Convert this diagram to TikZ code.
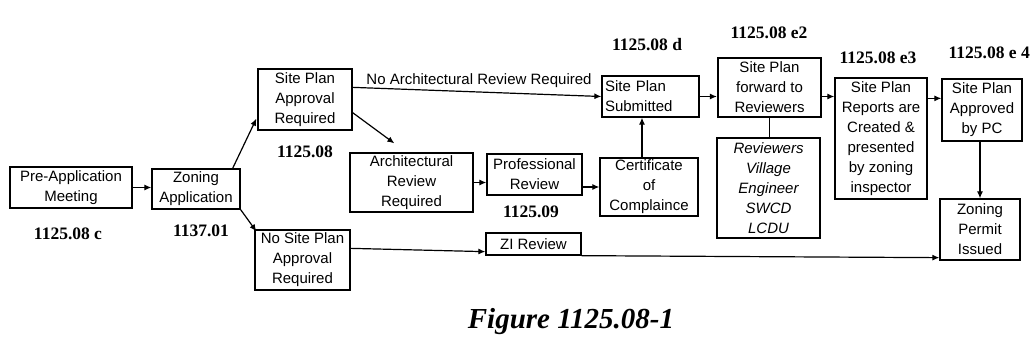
\documentclass[tikz,border=0pt]{standalone}
\usepackage{fontspec}
\setmainfont{Liberation Serif}
\setsansfont{Liberation Sans}
\usetikzlibrary{arrows.meta,calc}

\tikzset{
  blk/.style={draw, line width=1.3pt, align=center, inner sep=0pt,
    font=\sffamily\fontsize{15}{20}\selectfont},
  conn/.style={line width=1.2pt, -{Latex[length=7pt,width=6pt]}},
  plain/.style={line width=1.2pt},
  sec/.style={font=\bfseries\fontsize{17.5}{20}\selectfont, inner sep=0pt},
}

\begin{document}
\begin{tikzpicture}[x=1pt, y=-1pt]
\useasboundingbox (0,0) rectangle (1032,354);
\clip (0,0) rectangle (1032,354);

% process boxes
\node[blk, minimum width=122pt, minimum height=41pt] (pre) at (71,187.5) {Pre-Application\\Meeting};
\node[blk, minimum width=88pt, minimum height=40pt] (zon) at (196,189) {Zoning\\Application};
\node[blk, minimum width=94pt, minimum height=61pt] (spa) at (305,99.5) {Site Plan\\Approval\\Required};
\node[blk, minimum width=95pt, minimum height=60pt] (nsp) at (302.5,260) {No Site Plan\\Approval\\Required};
\node[blk, minimum width=123pt, minimum height=59pt] (arch) at (411.5,182.5) {Architectural\\Review\\Required};
\node[blk, minimum width=95pt, minimum height=41pt] (prof) at (534.5,174.5) {Professional\\Review};
\node[blk, minimum width=95pt, minimum height=22pt] (zi) at (533.5,244) {ZI Review};
\node[blk, align=left, text width=91pt, inner xsep=3pt, minimum height=41pt] (sps) at (650.5,96.5) {Site Plan\\Submitted};
\node[blk, minimum width=98pt, minimum height=58pt] (cert) at (649,187) {Certificate\\of\\Complaince};
\node[blk, line width=2.2pt, minimum width=103pt, minimum height=59pt] (fwd) at (769.5,87.5) {Site Plan\\forward to\\Reviewers};
\node[blk, minimum width=103pt, minimum height=100pt, font=\sffamily\itshape\fontsize{15}{20}\selectfont] (rev) at (768.5,188) {Reviewers\\Village\\Engineer\\SWCD\\LCDU};
\node[blk, minimum width=92pt, minimum height=121pt] (rep) at (881,138.5) {Site Plan\\Reports are\\Created \&\\presented\\by zoning\\inspector};
\node[blk, minimum width=80pt, minimum height=62pt] (app) at (982,110) {Site Plan\\Approved\\by PC};
\node[blk, minimum width=80pt, minimum height=61pt] (zp) at (980,229.5) {Zoning\\Permit\\Issued};

% section references
\node[sec] (s1) at (68,234) {1125.08 c};
\node[sec] (s2) at (201,231) {1137.01};
\node[sec] (s3) at (305,152) {1125.08};
\node[sec] (s4) at (531,212) {1125.09};
\node[sec] (s5) at (647,45) {1125.08 d};
\node[sec] (s6) at (769,33) {1125.08 e2};
\node[sec] (s7) at (878,58) {1125.08 e3};
\node[sec, anchor=east] (s8) at (1030,53) {1125.08 e 4};

% caption
\node[font=\bfseries\itshape\fontsize{29}{32}\selectfont, inner sep=0pt] (cap) at (571,322) {Figure 1125.08-1};

% connectors
\draw[conn] (pre.east) -- (pre.east -| zon.west);
\draw[conn] ($(zon.north east)+(-8,0)$) -- ($(spa.south west)+(-1,-12)$);
\draw[conn] (zon.south east) -- ($(nsp.north west)+(2,2)$);

\coordinate (na) at ($(spa.north east)+(0,19)$);
\draw[conn] (na) -- (sps.west);
\node[font=\sffamily\fontsize{15}{18}\selectfont, inner sep=0pt] (nalbl) at (479,81) {No Architectural Review Required};

\coordinate (archtop) at ($(arch.north west)+(45,-9)$);
\draw[conn] ($(spa.south east)+(0,-18)$) -- (archtop);
\draw[conn] (arch.east) -- (arch.east -| prof.west);
\draw[conn] (cert.west -| prof.east) -- (cert.west);
\draw[conn] ($(cert.north)+(-7,0)$) -- ($(sps.south)+(-8.5,0)$);
\draw[conn] (sps.east) -- (sps.east -| fwd.west);
\draw[plain] (fwd.south) -- (fwd.south |- rev.north);
\draw[conn] (sps.east -| fwd.east) -- (sps.east -| rep.west);

\coordinate (ra) at ($(rep.north east)+(0,21)$);
\draw[conn] (ra) -- (ra -| app.west);
\draw[conn] (zp.north |- app.south) -- (zp.north);

\coordinate (nz) at ($(nsp.north east)+(0,19)$);
\draw[conn] (nz) -- ($(zi.south west)+(0,-4)$);
\draw[conn] (zi.south east) -- ($(zp.south west)+(0,-3)$);
\end{tikzpicture}
\end{document}
